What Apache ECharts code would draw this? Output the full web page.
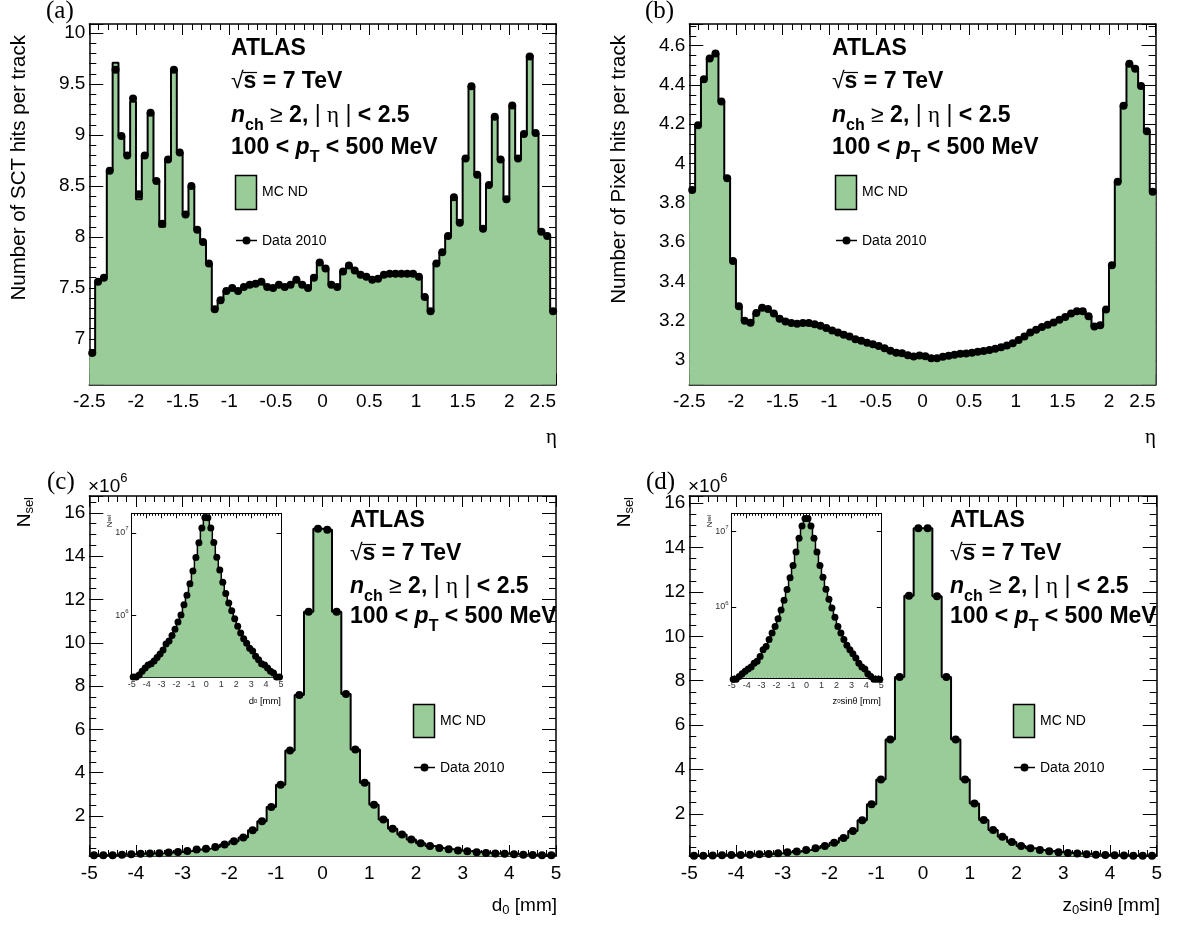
<!DOCTYPE html>
<html><head><meta charset="utf-8">
<script src="https://cdn.jsdelivr.net/npm/echarts@6/dist/echarts.min.js"></script>
<style>html,body{margin:0;padding:0;background:#fff}#c{width:1186px;height:929px}</style>
</head><body><div id="c"></div>
<script>
// ---------- binning ----------
const ETA_LO = -2.5, ETA_BIN = 0.0625;   // 80 bins in eta
const IP_LO = -5, IP_BIN = 0.2;          // 50 bins in d0 / z0 sin(theta)

// ---------- (a) SCT hits per track vs eta ----------
const sctData = [6.86,7.56,7.60,8.65,9.64,8.99,8.80,9.36,8.42,8.80,
  9.22,8.55,8.13,8.76,9.64,8.83,8.22,8.50,8.07,7.95,
  7.74,7.29,7.38,7.47,7.50,7.47,7.51,7.53,7.54,7.56,
  7.51,7.50,7.53,7.51,7.53,7.58,7.53,7.50,7.60,7.75,
  7.69,7.53,7.51,7.66,7.72,7.67,7.63,7.61,7.58,7.59,
  7.63,7.64,7.64,7.64,7.64,7.64,7.61,7.41,7.27,7.74,
  7.85,8.01,8.39,8.14,8.77,9.48,8.61,8.08,8.51,9.18,
  8.76,8.37,9.29,8.77,9.01,9.77,9.02,8.05,8.01,7.27];
const sctMC = [6.85,7.56,7.60,8.65,9.71,8.99,8.80,9.33,8.37,8.80,
  9.22,8.55,8.10,8.76,9.64,8.83,8.22,8.50,8.07,7.95,
  7.74,7.29,7.38,7.47,7.50,7.47,7.51,7.53,7.54,7.56,
  7.51,7.50,7.53,7.51,7.53,7.58,7.53,7.50,7.60,7.75,
  7.69,7.53,7.51,7.66,7.72,7.67,7.63,7.61,7.58,7.59,
  7.63,7.64,7.64,7.64,7.64,7.64,7.61,7.41,7.27,7.74,
  7.85,8.01,8.39,8.14,8.77,9.48,8.61,8.08,8.51,9.18,
  8.76,8.37,9.29,8.77,9.01,9.78,9.02,8.05,8.01,7.27];

// ---------- (b) Pixel hits per track vs eta ----------
const pixData = [3.866,4.195,4.429,4.534,4.560,4.316,3.925,3.504,3.274,3.200,
  3.190,3.240,3.266,3.260,3.237,3.210,3.197,3.189,3.185,3.189,
  3.189,3.183,3.175,3.163,3.151,3.140,3.129,3.120,3.106,3.099,
  3.089,3.081,3.072,3.060,3.048,3.038,3.035,3.025,3.019,3.024,
  3.020,3.010,3.010,3.017,3.022,3.027,3.033,3.034,3.038,3.043,
  3.046,3.051,3.058,3.065,3.075,3.086,3.103,3.120,3.140,3.154,
  3.168,3.180,3.192,3.206,3.219,3.237,3.249,3.249,3.223,3.171,
  3.178,3.257,3.483,3.908,4.294,4.508,4.482,4.395,4.165,3.857];
const pixMC = [3.870,4.195,4.429,4.534,4.560,4.316,3.925,3.504,3.274,3.200,
  3.190,3.240,3.266,3.260,3.237,3.210,3.197,3.189,3.185,3.189,
  3.189,3.183,3.175,3.163,3.151,3.140,3.129,3.120,3.106,3.099,
  3.089,3.081,3.072,3.060,3.048,3.038,3.035,3.025,3.019,3.024,
  3.020,3.010,3.010,3.017,3.022,3.027,3.033,3.034,3.038,3.043,
  3.046,3.051,3.058,3.065,3.075,3.086,3.103,3.120,3.140,3.154,
  3.168,3.180,3.192,3.206,3.219,3.237,3.249,3.249,3.223,3.171,
  3.178,3.257,3.483,3.908,4.294,4.508,4.482,4.395,4.165,3.860];

// ---------- (c) d0 distribution, units of 10^6 ----------
const d0Data = [0.18,0.18,0.19,0.21,0.23,0.25,0.26,0.28,0.31,0.34,
  0.38,0.45,0.49,0.57,0.68,0.83,1.01,1.34,1.75,2.41,
  3.44,5.02,7.59,11.43,15.27,15.22,11.43,7.63,5.07,3.53,
  2.52,1.84,1.41,1.14,0.91,0.74,0.61,0.52,0.46,0.40,
  0.37,0.32,0.29,0.26,0.25,0.23,0.21,0.20,0.18,0.18];
const d0MC = [0.18,0.18,0.19,0.21,0.23,0.25,0.26,0.28,0.31,0.34,
  0.38,0.45,0.49,0.57,0.68,0.83,1.01,1.34,1.75,2.41,
  3.44,5.02,7.59,11.43,15.27,15.22,11.43,7.63,5.07,3.53,
  2.52,1.84,1.41,1.14,0.91,0.74,0.61,0.52,0.46,0.40,
  0.37,0.32,0.29,0.26,0.25,0.23,0.21,0.20,0.18,0.18];

// ---------- (d) z0 sin(theta) distribution, units of 10^6 ----------
const z0Data = [0.11,0.11,0.12,0.13,0.14,0.15,0.16,0.18,0.19,0.22,
  0.27,0.30,0.37,0.45,0.55,0.70,0.91,1.23,1.71,2.43,
  3.55,5.35,8.17,11.83,14.87,14.87,11.80,8.17,5.35,3.55,
  2.47,1.72,1.27,0.97,0.73,0.55,0.45,0.37,0.31,0.27,
  0.24,0.21,0.18,0.16,0.15,0.13,0.12,0.11,0.11,0.11];
const z0MC = [0.11,0.11,0.12,0.13,0.14,0.15,0.16,0.18,0.19,0.22,
  0.27,0.30,0.37,0.45,0.55,0.70,0.91,1.23,1.71,2.43,
  3.55,5.35,8.17,11.83,14.87,14.87,11.80,8.17,5.35,3.55,
  2.47,1.72,1.27,0.97,0.73,0.55,0.45,0.37,0.31,0.27,
  0.24,0.21,0.18,0.16,0.15,0.13,0.12,0.11,0.11,0.11];
const UNIT = 1e6;

// ---------- helpers ----------
const SANS = "'Liberation Sans', Arial, Helvetica, sans-serif";
const SERIF = "'Liberation Serif', 'Times New Roman', serif";
const GREEN = '#99cc99';
function centers(vals, lo, w, k){ return vals.map((v,i)=>[lo+(i+0.5)*w, v*(k||1)]); }
function steps(vals, lo, w, k){ const o=[]; vals.forEach((v,i)=>{o.push([lo+i*w, v*(k||1)]); o.push([lo+(i+1)*w, v*(k||1)]);}); return o; }
function isMult(v, s){ const r=v/s; return Math.abs(r-Math.round(r))<1e-6; }
function fmt(v){ return String(+v.toFixed(3)); }

const grids = [
  {left:89.3, top:24, width:466.7, height:360.7},
  {left:689.3, top:24, width:466.3, height:360.7},
  {left:89.3, top:496, width:466.7, height:360},
  {left:689.3, top:496, width:467.4, height:360},
  {left:131.7, top:513.3, width:149.3, height:164},
  {left:731.7, top:513.3, width:149.6, height:164.5}
];
const xAxes = [], yAxes = [];
const tickLine = {color:'#000', width:1};
function frameX(g, min, max, interval, minorSplit, tMaj, tMin, labelOpt, lw){
  const common = {type:'value', gridIndex:g, min, max, interval, splitLine:{show:false},
    axisLine:{show:true, onZero:false, lineStyle:{color:'#000', width:lw}},
    axisTick:{show:true, inside:true, length:tMaj, lineStyle:tickLine},
    minorTick:{show:true, splitNumber:minorSplit, length:tMin, lineStyle:tickLine}};
  const i = xAxes.length;
  xAxes.push(Object.assign({}, common, {position:'bottom', axisLabel:labelOpt}));
  xAxes.push(Object.assign({}, common, {position:'top', axisLabel:{show:false}}));
  return i;
}
function frameY(g, min, max, splitMaj, splitMin, step, tMaj, tMin, labelOpt, lw){
  const base = {type:'value', gridIndex:g, min, max, splitLine:{show:false}, minorTick:{show:false}};
  const major = Object.assign({}, base, {splitNumber:splitMaj,
    axisLine:{show:true, onZero:false, lineStyle:{color:'#000', width:lw}},
    axisTick:{show:true, inside:true, length:tMaj, lineStyle:tickLine}});
  const i = yAxes.length;
  yAxes.push(Object.assign({}, major, {position:'left',
    axisLabel:Object.assign({formatter:v=>isMult(v,step)?fmt(v):''}, labelOpt)}));
  yAxes.push(Object.assign({}, major, {position:'right', axisLabel:{show:false}}));
  const minor = Object.assign({}, base, {splitNumber:splitMin, axisLine:{show:false, onZero:false},
    axisTick:{show:true, inside:true, length:tMin, lineStyle:tickLine}, axisLabel:{show:false}});
  yAxes.push(Object.assign({}, minor, {position:'left'}));
  yAxes.push(Object.assign({}, minor, {position:'right'}));
  return i;
}
function logY(g, min, max, tMaj){
  const base = {type:'log', logBase:10, gridIndex:g, min, max, splitLine:{show:false},
    axisLine:{show:true, onZero:false, lineStyle:{color:'#000', width:1}},
    axisTick:{show:true, inside:true, length:tMaj, lineStyle:tickLine}};
  const i = yAxes.length;
  yAxes.push(Object.assign({}, base, {position:'left', axisLabel:{color:'#000', margin:3,
    formatter:v=>{const e=Math.log10(v); return Math.abs(e-Math.round(e))<1e-6 ? '{m|10}{e|'+Math.round(e)+'}' : '';},
    rich:{m:{fontSize:9, fontFamily:SANS, color:'#333', lineHeight:14}, e:{fontSize:6, fontFamily:SANS, color:'#333', lineHeight:8, verticalAlign:'top'}}}}));
  yAxes.push(Object.assign({}, base, {position:'right', axisLabel:{show:false}}));
  return i;
}
const etaLabel = {color:'#000', fontSize:19, fontFamily:SANS, margin:8, alignMaxLabel:'right'};
const ipLabel = {color:'#000', fontSize:19, fontFamily:SANS, margin:8};
const mainYLabel = {color:'#000', fontSize:19, fontFamily:SANS, margin:4};
const insetLabel = {color:'#333', fontSize:9, fontFamily:SANS, margin:3};

const series = [];
function panel(xi, yi, mc, data, lo, w, k, sym, lw){
  series.push({type:'line', xAxisIndex:xi, yAxisIndex:yi, data:steps(mc, lo, w, k), symbol:'none',
    lineStyle:{color:'#000', width:lw}, areaStyle:{color:GREEN, opacity:1, origin:'start'}, z:2, silent:true});
  series.push({type:'scatter', xAxisIndex:xi, yAxisIndex:yi, data:centers(data, lo, w, k), symbol:'circle',
    symbolSize:sym, itemStyle:{color:'#000', opacity:1}, z:3, clip:false, silent:true});
}

// (a)
let xa = frameX(0, -2.5, 2.5, 0.5, 5, 11, 6, etaLabel, 1.5);
let ya = frameY(0, 6.55, 10.09, 7, 35, 0.5, 14, 7, mainYLabel, 1.5);
panel(xa, ya, sctMC, sctData, ETA_LO, ETA_BIN, 1, 8, 2);
// (b)
let xb = frameX(1, -2.5, 2.5, 0.5, 5, 11, 6, etaLabel, 1.5);
let yb = frameY(1, 2.875, 4.71, 9, 40, 0.2, 14, 7, mainYLabel, 1.5);
panel(xb, yb, pixMC, pixData, ETA_LO, ETA_BIN, 1, 8, 2);
// (c)
let xc = frameX(2, -5, 5, 1, 5, 11, 6, ipLabel, 1.5);
let yc = frameY(2, 0.15, 16.78, 8, 33, 2, 14, 7, mainYLabel, 1.5);
panel(xc, yc, d0MC, d0Data, IP_LO, IP_BIN, 1, 8, 2);
// (d)
let xd = frameX(3, -5, 5, 1, 5, 11, 6, ipLabel, 1.5);
let yd = frameY(3, 0.10, 16.32, 8, 33, 2, 14, 7, mainYLabel, 1.5);
panel(xd, yd, z0MC, z0Data, IP_LO, IP_BIN, 1, 8, 2);
// insets
let xci = frameX(4, -5, 5, 1, 5, 5, 2.5, insetLabel, 1);
let yci = logY(4, 1.78e5, 1.72e7, 4.5);
panel(xci, yci, d0MC, d0Data, IP_LO, IP_BIN, UNIT, 7, 1.5);
let xdi = frameX(5, -5, 5, 1, 5, 5, 2.5, insetLabel, 1);
let ydi = logY(5, 1.15e5, 1.745e7, 4.5);
panel(xdi, ydi, z0MC, z0Data, IP_LO, IP_BIN, UNIT, 7, 1.5);

// ---------- text ----------
function T(x, y, text, rich, o){
  o = o || {};
  return {type:'text', x, y, rotation:o.rot||0, silent:true, z:100,
    style:{text, rich, fill:'#000', align:o.align||'left', verticalAlign:'middle', font:(o.size||14)+'px '+SANS}};
}
function infoRich(s){ const sb=Math.round(s*0.68);
  return {b:{fontFamily:SANS, fontWeight:'bold', fontSize:s, lineHeight:s+6},
    bi:{fontFamily:SANS, fontWeight:'bold', fontStyle:'italic', fontSize:s, lineHeight:s+6},
    r:{fontFamily:SANS, fontSize:s, lineHeight:s+6},
    g:{fontFamily:SERIF, fontSize:s, lineHeight:s+6},
    sub:{fontFamily:SANS, fontWeight:'bold', fontSize:sb, lineHeight:sb, padding:[sb,0,0,0], verticalAlign:'top'}};
}
function plainRich(s){ const sb=Math.round(s*0.68);
  return {r:{fontFamily:SANS, fontSize:s, lineHeight:s+6},
    g:{fontFamily:SERIF, fontSize:s, lineHeight:s+6},
    sub:{fontFamily:SANS, fontSize:sb, lineHeight:sb, padding:[Math.round(s*0.55),0,0,0], verticalAlign:'top'}};
}
const infoLines = ['{b|ATLAS}', '{r|√}{b|s = 7 TeV}',
  '{bi|n}{sub|ch}{r| ≥ }{b|2, }{r|| }{g|η}{r| |}{b| < 2.5}',
  '{b|100 < }{bi|p}{sub|T}{b| < 500 MeV}'];
const INFO_SIZE = 23;
const graphics = [];
function info(x, ys){
  infoLines.forEach((t,i)=>graphics.push(T(x, ys[i], t, infoRich(INFO_SIZE), {size:INFO_SIZE})));
  // overline of the square root
  graphics.push({type:'line', silent:true, z:100, shape:{x1:x+12, y1:ys[1]-9.5, x2:x+26, y2:ys[1]-9.5}, style:{stroke:'#000', lineWidth:1.2}});
}
info(231, [49,82,116,148]);
info(832, [49,82,116,148]);
info(350, [521,554,587,617]);
info(950, [521,554,587,617]);
function legend(x, yBox, hBox, yData){
  graphics.push({type:'rect', silent:true, z:100, shape:{x:x, y:yBox, width:21, height:hBox}, style:{fill:GREEN, stroke:'#000', lineWidth:1.5}});
  graphics.push(T(x+26.5, yBox+hBox/2, '{r|MC ND}', plainRich(14), {size:14}));
  graphics.push({type:'line', silent:true, z:100, shape:{x1:x+0.5, y1:yData, x2:x+21.5, y2:yData}, style:{stroke:'#000', lineWidth:1.5}});
  graphics.push({type:'circle', silent:true, z:101, shape:{cx:x+11, cy:yData, r:4}, style:{fill:'#000'}});
  graphics.push(T(x+26.5, yData+0.5, '{r|Data 2010}', plainRich(14), {size:14}));
}
legend(235.5, 175.5, 34, 240.5);
legend(835.5, 175.5, 34, 240.5);
legend(413.5, 704.5, 33, 767.5);
legend(1013.5, 704.5, 33, 767.5);
// panel letters
const letterRich = {l:{fontFamily:SERIF, fontSize:25, lineHeight:28}};
[['(a)',46,11],['(b)',645,11],['(c)',47,482],['(d)',646,482]].forEach(p=>graphics.push(T(p[1], p[2], '{l|'+p[0]+'}', letterRich, {size:25})));
// axis titles
graphics.push(T(19, 35, '{r|Number of SCT hits per track}', plainRich(20.5), {size:20.5, rot:Math.PI/2, align:'right'}));
graphics.push(T(619, 35, '{r|Number of Pixel hits per track}', plainRich(20.5), {size:20.5, rot:Math.PI/2, align:'right'}));
graphics.push(T(557, 437, '{g|η}', plainRich(21), {size:21, align:'right'}));
graphics.push(T(1156, 437, '{g|η}', plainRich(21), {size:21, align:'right'}));
graphics.push(T(25, 497, '{r|N}{sub|sel}', plainRich(19), {size:19, rot:Math.PI/2, align:'right'}));
graphics.push(T(625, 497, '{r|N}{sub|sel}', plainRich(19), {size:19, rot:Math.PI/2, align:'right'}));
graphics.push(T(557, 906, '{r|d}{sub|0}{r| [mm]}', plainRich(19), {size:19, align:'right'}));
graphics.push(T(1160, 906, '{r|z}{sub|0}{r|sin}{g|θ}{r| [mm]}', plainRich(19), {size:19, align:'right'}));
const expRich = {m:{fontFamily:SANS, fontSize:19, lineHeight:30}, sup:{fontFamily:SANS, fontSize:13, lineHeight:13, verticalAlign:'top'}};
graphics.push(T(88, 487, '{m|×10}{sup|6}', expRich, {size:19}));
graphics.push(T(688, 487, '{m|×10}{sup|6}', expRich, {size:19}));
// inset titles
graphics.push(T(281, 701, '{r|d}{sub|0}{r| [mm]}', plainRich(9.5), {size:9.5, align:'right'}));
graphics.push(T(881, 701, '{r|z}{sub|0}{r|sin}{g|θ}{r| [mm]}', plainRich(9.5), {size:9.5, align:'right'}));
graphics.push(T(110, 515, '{r|N}{sub|sel}', plainRich(8), {size:8, rot:Math.PI/2, align:'right'}));
graphics.push(T(710, 515, '{r|N}{sub|sel}', plainRich(8), {size:8, rot:Math.PI/2, align:'right'}));

const chart = echarts.init(document.getElementById('c'), null, {renderer:'canvas'});
chart.setOption({animation:false, backgroundColor:'#fff',
  grid:grids.map(g=>Object.assign({containLabel:false, show:false}, g)),
  xAxis:xAxes, yAxis:yAxes, series, graphic:{elements:graphics}});
</script></body></html>
